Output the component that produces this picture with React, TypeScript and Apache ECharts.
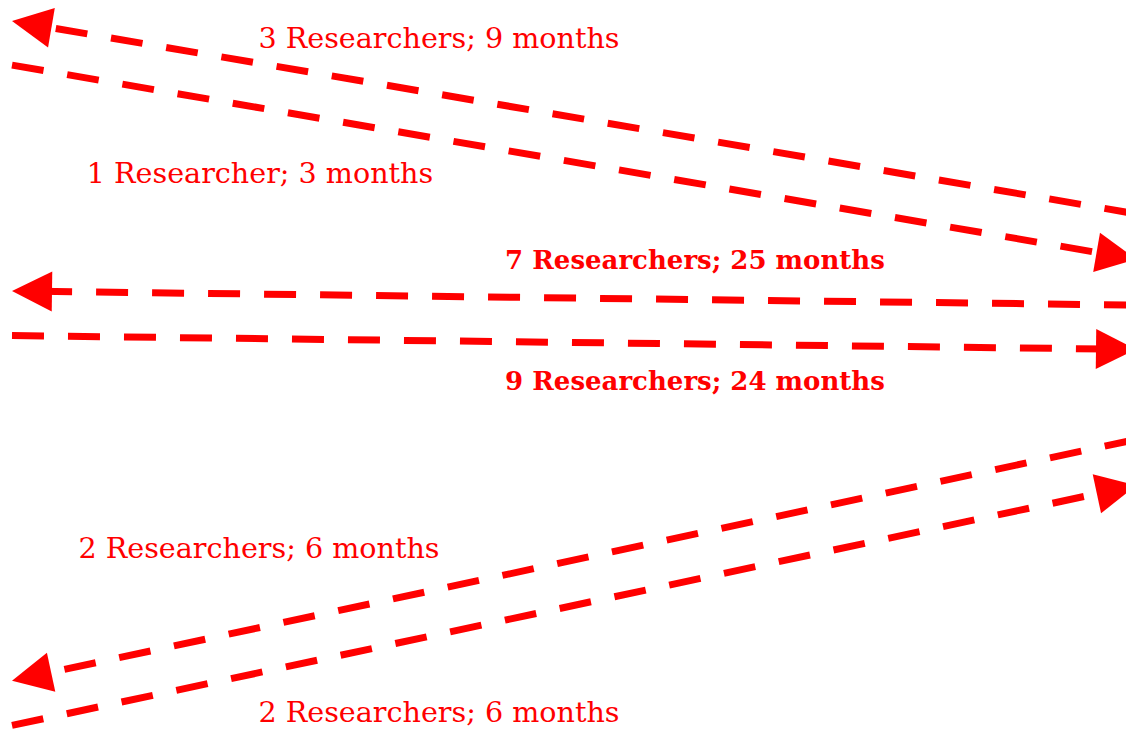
import React, { useEffect, useRef } from "react";
import * as echarts from "echarts";

// Edge data (plot units; x: 0..1126, y: 0..733 with y growing downward)
const edgeLabels = [
  "3 Researchers; 9 months",
  "1 Researcher; 3 months",
  "7 Researchers; 25 months",
  "9 Researchers; 24 months",
  "2 Researchers; 6 months",
  "2 Researchers; 6 months",
];
const fromX = [1136, 12, 1136, 12, 1136, 12];
const fromY = [213.8, 65.1, 305.1, 335.6, 439.4, 725.4];
const toX = [12, 1136, 12, 1136, 12, 1136];
const toY = [21, 259.2, 291, 349.4, 680.7, 485.4];
const labelX = [439, 260, 695, 695, 259, 439];
const labelY = [38, 173, 260, 381, 548, 712];
const labelBold = [false, false, true, true, false, false];

const RED = "#ff0000";
const ARROW = 40;
const FONT = "DejaVu Serif";

export default function App() {
  const ref = useRef<HTMLDivElement>(null);
  useEffect(() => {
    if (!ref.current) return;
    const chart = echarts.init(ref.current, undefined, { renderer: "svg" });

    const lineData = edgeLabels.map((name, i) => {
      const dx = toX[i] - fromX[i];
      const dy = toY[i] - fromY[i];
      const len = Math.sqrt(dx * dx + dy * dy);
      // shorten so the triangle's tip lands on the target point
      const ex = toX[i] - (dx / len) * (ARROW / 2);
      const ey = toY[i] - (dy / len) * (ARROW / 2);
      return { name, coords: [[fromX[i], fromY[i]], [ex, ey]] };
    });

    const labelData = edgeLabels.map((name, i) => ({
      name,
      value: [labelX[i], labelY[i]],
      label: labelBold[i]
        ? { fontWeight: "bold", fontSize: 26 }
        : { fontWeight: "normal", fontSize: 28.6 },
    }));

    chart.setOption({
      animation: false,
      grid: { left: 0, right: 0, top: 0, bottom: 0 },
      xAxis: { type: "value", min: 0, max: 1126, show: false },
      yAxis: { type: "value", min: 0, max: 733, inverse: true, show: false },
      series: [
        {
          type: "lines",
          coordinateSystem: "cartesian2d",
          symbol: ["none", "triangle"],
          symbolSize: ARROW,
          lineStyle: { color: RED, width: 7, type: [32, 24], cap: "butt", opacity: 1 },
          data: lineData,
          silent: true,
        },
        {
          type: "scatter",
          symbolSize: 0,
          data: labelData,
          silent: true,
          itemStyle: { opacity: 1 },
          label: {
            show: true,
            position: "inside",
            formatter: (p: any) => p.name,
            color: RED,
            opacity: 1,
            fontFamily: FONT,
            fontSize: 28.6,
            align: "center",
            verticalAlign: "middle",
          },
        },
      ],
    });
    return () => chart.dispose();
  }, []);
  return (
    <div
      ref={ref}
      style={{ position: "absolute", left: 0, top: 0, width: 1126, height: 733, background: "#fff" }}
    />
  );
}
